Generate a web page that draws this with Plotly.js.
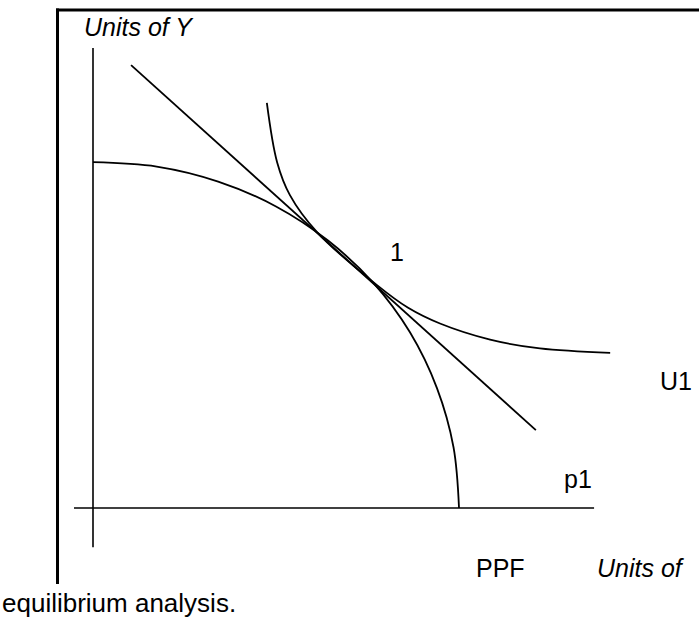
<!DOCTYPE html>
<html>
<head>
<meta charset="utf-8">
<script src="https://cdn.plot.ly/plotly-3.0.1.min.js"></script>
<style>html,body{margin:0;padding:0;background:#fff;}#chart{width:699px;height:623px;}</style>
</head>
<body>
<div id="chart"></div>
<script>
// Diagram values (abstract units; origin where the two axes cross)
var ppfX = [0, 1.74, 3.42, 5.00, 6.43, 7.66, 8.66, 9.40, 9.85, 10.0];
var ppfY = [9.45, 9.33, 8.92, 8.24, 7.30, 6.15, 4.80, 3.27, 1.66, 0];
var priceX = [1.04, 12.10];
var priceY = [12.10, 2.13];
var u1X = [4.75, 5.03, 5.38, 6.12, 7.76, 8.61, 9.48, 10.85, 12.21, 14.13];
var u1Y = [11.07, 9.45, 8.55, 7.54, 6.09, 5.47, 5.04, 4.60, 4.36, 4.24];
var yAxisX = [0, 0];
var yAxisY = [12.57, -1.07];
var xAxisX = [-0.52, 13.69];
var xAxisY = [0, 0];
var labelText = ["1", "U1", "p1", "PPF"];
var labelX = [8.31, 15.93, 13.25, 11.12];
var labelY = [6.99, 3.47, 0.79, -1.64];
var italicText = ["Units of Y", "Units of"];
var italicX = [-0.30, 13.72];
var italicY = [13.14, -1.64];
var captionText = "equilibrium analysis.";

var ink = '#000';
function line(x, y, w, spline) {
  return {x: x, y: y, type: 'scatter', mode: 'lines', hoverinfo: 'skip',
    line: {color: ink, width: w, shape: spline ? 'spline' : 'linear', smoothing: 1}};
}
var data = [
  line(yAxisX, yAxisY, 1.6, false),
  line(xAxisX, xAxisY, 1.6, false),
  line(ppfX, ppfY, 1.8, true),
  line(priceX, priceY, 1.8, false),
  line(u1X, u1Y, 1.8, true)
];
var annotations = [];
var font = 'Liberation Sans, Arial, sans-serif';
for (var i = 0; i < labelText.length; i++) {
  annotations.push({x: labelX[i], y: labelY[i], xref: 'x', yref: 'y', text: labelText[i],
    xanchor: 'center', yanchor: 'middle',
    showarrow: false, font: {family: font, size: 25, color: ink}});
}
for (var j = 0; j < italicText.length; j++) {
  annotations.push({x: italicX[j], y: italicY[j], xref: 'x', yref: 'y', xanchor: 'left', yanchor: 'middle',
    text: '<i>' + italicText[j] + '</i>',
    showarrow: false, font: {family: font, size: 25, color: ink}});
}
annotations.push({x: 0, y: 1 - 603/623, xref: 'paper', yref: 'paper', xanchor: 'left', yanchor: 'middle',
  text: captionText, showarrow: false, font: {family: font, size: 26, color: ink}});

var layout = {
  width: 699, height: 623,
  margin: {l: 0, r: 0, t: 0, b: 0},
  paper_bgcolor: '#fff', plot_bgcolor: '#fff',
  showlegend: false,
  xaxis: {range: [-2.541, 16.557], visible: false, fixedrange: true},
  yaxis: {range: [-3.142, 13.880], visible: false, fixedrange: true},
  shapes: [
    {type: 'line', xref: 'paper', yref: 'paper', x0: 56/699, x1: 1.01, y0: 1 - 10/623, y1: 1 - 10/623, line: {color: ink, width: 3}},
    {type: 'line', xref: 'paper', yref: 'paper', x0: 57.5/699, x1: 57.5/699, y0: 1 - 8.5/623, y1: 1 - 584/623, line: {color: ink, width: 3}}
  ],
  annotations: annotations
};
Plotly.newPlot('chart', data, layout, {staticPlot: true, displayModeBar: false});
</script>
</body>
</html>
